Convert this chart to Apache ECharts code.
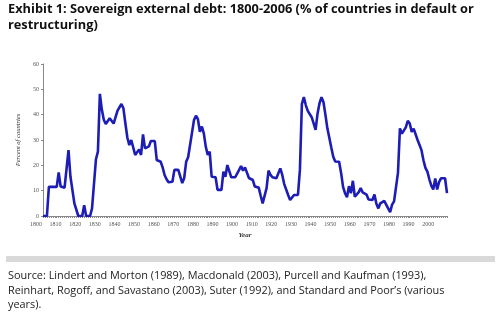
<!DOCTYPE html>
<html><head><meta charset="utf-8">
<style>html,body{margin:0;padding:0;background:#fff}#c{width:500px;height:326px}</style>
<script src="https://cdn.jsdelivr.net/npm/echarts@6/dist/echarts.min.js"></script>
</head><body><div id="c"></div>
<script>
const years = [1800,1801,1802,1803,1804,1805,1806,1807,1808,1809,1810,1811,1812,1813,1814,1815,1816,1817,1818,1819,1820,1821,1822,1823,1824,1825,1826,1827,1828,1829,1830,1831,1832,1833,1834,1835,1836,1837,1838,1839,1840,1841,1842,1843,1844,1845,1846,1847,1848,1849,1850,1851,1852,1853,1854,1855,1856,1857,1858,1859,1860,1861,1862,1863,1864,1865,1866,1867,1868,1869,1870,1871,1872,1873,1874,1875,1876,1877,1878,1879,1880,1881,1882,1883,1884,1885,1886,1887,1888,1889,1890,1891,1892,1893,1894,1895,1896,1897,1898,1899,1900,1901,1902,1903,1904,1905,1906,1907,1908,1909,1910,1911,1912,1913,1914,1915,1916,1917,1918,1919,1920,1921,1922,1923,1924,1925,1926,1927,1928,1929,1930,1931,1932,1933,1934,1935,1936,1937,1938,1939,1940,1941,1942,1943,1944,1945,1946,1947,1948,1949,1950,1951,1952,1953,1954,1955,1956,1957,1958,1959,1960,1961,1962,1963,1964,1965,1966,1967,1968,1969,1970,1971,1972,1973,1974,1975,1976,1977,1978,1979,1980,1981,1982,1983,1984,1985,1986,1987,1988,1989,1990,1991,1992,1993,1994,1995,1996,1997,1998,1999,2000,2001,2002,2003,2004,2005,2006];
const percentInDefault = [0,0,0,11.5,11.5,11.5,11.5,11.5,17.2,11.6,11.4,11.2,10.5,26,15.5,15.3,5,4.7,0,0,0,4.3,0,0,0,3,3,22.4,25.4,48.2,42,38,36.3,36.3,38.6,38.6,36.5,36.5,41.6,42,44.2,42.5,36.6,31,28,30,29.3,24.1,24.1,26.3,24.1,32.2,26.7,26.7,27.5,29.6,29.6,29.6,22.1,21.5,21.4,19.2,16.2,14.5,13.3,13.3,13.5,18.2,18.2,18.2,18.2,13,15,21.4,23.2,23.4,33,37.9,39.6,38.2,33.2,35.3,32.6,27.4,24.1,25.4,15.5,15.5,15.3,10.3,10.3,10.3,17.5,15.5,20.1,20.1,15.3,15.3,15.3,15.3,18.2,19.7,17.9,19.2,19.2,15,14.5,14.2,11.6,11.4,11.2,8,5,4.6,11,17.9,16.2,15.3,15,14.9,14.9,18.8,16.2,12.6,12.2,8.3,6.3,6.3,8.3,8.3,8.3,18.2,44.2,46.9,43.8,41.5,42,39,36.6,34,40.5,44.5,46.9,45,40,34.6,34,27,23.4,21.5,20.8,21.4,17,11.5,9,7.4,11.8,9,13.9,7.6,7.4,9.4,11,9.3,9,8.4,6.5,6.3,6.3,8.5,4.8,3,5,4.3,6,4.5,4.5,1.5,4.5,5.8,6,17,34.6,32.5,32.5,35,37.6,36.5,33.2,34.5,34.2,30,28,26,22,19,17.5,14.5,12,10.5,14.8,10.5,13.5,14.9,14.9,14.9,9];
const titleText = 'Exhibit 1: Sovereign external debt: 1800-2006 (% of countries in default or\nrestructuring)';
const sourceText = 'Source: Lindert and Morton (1989), Macdonald (2003), Purcell and Kaufman (1993),\nReinhart, Rogoff, and Savastano (2003), Suter (1992), and Standard and Poor\u2019s (various\nyears).';
const yAxisName = 'Percent of countries';
const xAxisName = 'Year';

const chart = echarts.init(document.getElementById('c'));
chart.setOption({
  animation: false,
  backgroundColor: '#fff',
  grid: {left: 43, right: 53, top: 64, bottom: 110},
  xAxis: {
    type: 'value', min: 1800, max: 2006, interval: 10,
    name: xAxisName, nameLocation: 'middle', nameGap: 16,
    nameTextStyle: {fontFamily: 'Liberation Serif', fontStyle: 'italic', fontWeight: 'bold', fontSize: 7, color: '#333'},
    axisLine: {lineStyle: {color: '#888', width: 1}},
    axisTick: {length: 2, lineStyle: {color: '#888'}},
    minorTick: {show: true, splitNumber: 10, length: 2, lineStyle: {color: '#888'}},
    splitLine: {show: false},
    axisLabel: {fontFamily: 'Liberation Serif', fontSize: 6, color: '#555', margin: 5, padding: [0, 14, 0, 0], showMaxLabel: false, formatter: v => String(v)}
  },
  yAxis: {
    type: 'value', min: 0, max: 60, interval: 10,
    name: yAxisName, nameLocation: 'middle', nameGap: 17, nameRotate: 90,
    nameTextStyle: {fontFamily: 'Liberation Serif', fontStyle: 'italic', fontSize: 6.5, color: '#333'},
    axisLine: {show: true, lineStyle: {color: '#888', width: 1}},
    axisTick: {show: true, length: 2, lineStyle: {color: '#888'}},
    splitLine: {show: false},
    axisLabel: {fontFamily: 'Liberation Serif', fontSize: 6, color: '#555', margin: 4}
  },
  series: [{
    type: 'line', showSymbol: false,
    data: years.map((y, i) => [y, percentInDefault[i]]),
    lineStyle: {color: '#1d1db5', width: 2.6},
    itemStyle: {color: '#1d1db5'}
  }],
  graphic: [
    {type: 'text', left: 8, top: 1, style: {text: titleText, font: 'bold 12.8px "Open Sans"', fill: '#111', lineHeight: 16}},
    {type: 'rect', shape: {x: 6, y: 256, width: 489, height: 6}, style: {fill: '#d9d9d9'}},
    {type: 'text', left: 8, top: 269, style: {text: sourceText, font: '10.9px "Open Sans"', fill: '#222', lineHeight: 14.5}}
  ]
});
</script></body></html>
